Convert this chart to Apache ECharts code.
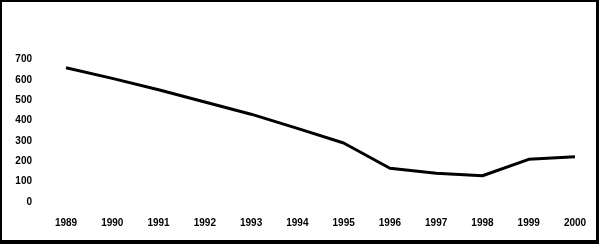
<!DOCTYPE html>
<html>
<head>
<meta charset="utf-8">
<script src="https://cdn.jsdelivr.net/npm/echarts@6/dist/echarts.min.js"></script>
<style>
html,body{margin:0;padding:0;background:#fff;}
#frame{width:599px;height:244px;box-sizing:border-box;border-style:solid;border-color:#000;border-width:2px 3px 4px 2px;position:relative;}
#chart{position:absolute;left:-2px;top:-2px;width:599px;height:244px;}
</style>
</head>
<body>
<div id="frame"><div id="chart"></div></div>
<script>
var years = ['1989','1990','1991','1992','1993','1994','1995','1996','1997','1998','1999','2000'];
var values = [660, 608, 552, 492, 432, 362, 290, 166, 141, 129, 210, 223];
var yTicks = [0, 100, 200, 300, 400, 500, 600, 700];

var chart = echarts.init(document.getElementById('chart'), null, {renderer:'canvas'});
chart.setOption({
  animation: false,
  backgroundColor: 'transparent',
  grid: {left: 66, right: 24, top: 59.7, bottom: 42},
  xAxis: {
    type: 'category',
    data: years,
    boundaryGap: false,
    axisLine: {show: false},
    axisTick: {show: false},
    splitLine: {show: false},
    axisLabel: {margin: 16, color: '#000', fontFamily: 'Liberation Sans', fontWeight: 'bold', fontSize: 10, interval: 0}
  },
  yAxis: {
    type: 'value',
    min: yTicks[0],
    max: yTicks[yTicks.length - 1],
    interval: 100,
    axisLine: {show: false},
    axisTick: {show: false},
    splitLine: {show: false},
    axisLabel: {margin: 34, color: '#000', fontFamily: 'Liberation Sans', fontWeight: 'bold', fontSize: 10}
  },
  series: [{
    type: 'line',
    data: values,
    showSymbol: false,
    symbol: 'none',
    lineStyle: {color: '#000', width: 3},
    smooth: false
  }]
});
</script>
</body>
</html>
